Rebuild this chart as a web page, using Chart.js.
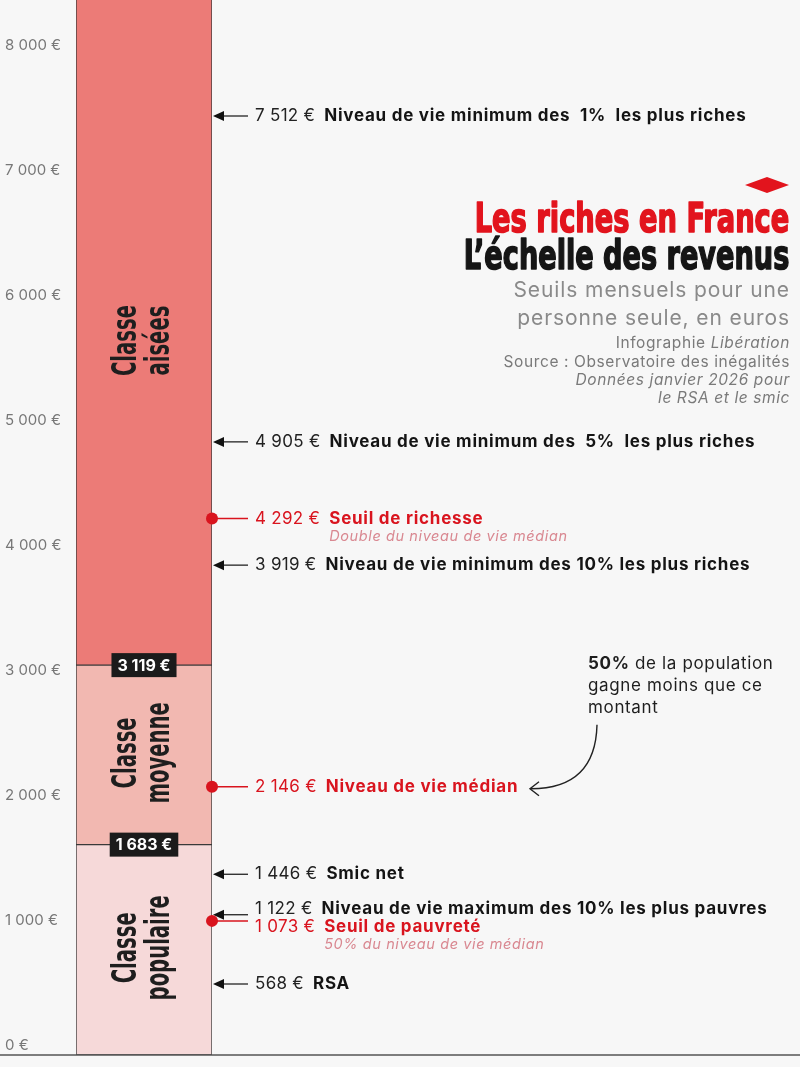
<!DOCTYPE html>
<html><head><meta charset="utf-8">
<script src="https://cdn.jsdelivr.net/npm/chart.js@4"></script>
<style>html,body{margin:0;padding:0;background:#f7f7f7;}canvas{display:block}</style>
</head><body>
<canvas id="c" width="800" height="1067"></canvas>
<script>
// ---------- DATA ----------
const AXIS_MAX = 8440;
const yTicks = [0, 1000, 2000, 3000, 4000, 5000, 6000, 7000, 8000];
const classNames = [['Classe', 'populaire'], ['Classe', 'moyenne'], ['Classe', 'aisées']];
const classLow = [0, 1683, 3119];
const classHigh = [1683, 3119, AXIS_MAX];
const classColors = ['#f6d9d9', '#f2b8b1', '#ec7b77'];
const boundaryValues = [1683, 3119];
const markerValues = [7512, 4905, 4292, 3919, 2146, 1446, 1122, 1073, 568];
const markerLabels = [
  'Niveau de vie minimum des  1%  les plus riches',
  'Niveau de vie minimum des  5%  les plus riches',
  'Seuil de richesse',
  'Niveau de vie minimum des 10% les plus riches',
  'Niveau de vie médian',
  'Smic net',
  'Niveau de vie maximum des 10% les plus pauvres',
  'Seuil de pauvreté',
  'RSA'
];
const markerNotes = ['', '', 'Double du niveau de vie médian', '', '', '', '', '50% du niveau de vie médian', ''];
const markerKinds = ['arrow', 'arrow', 'dot', 'arrow', 'dot', 'arrow', 'arrow', 'dot', 'arrow'];
const medianValue = 2146;
const titleLines = ['Les riches en France', 'L\u2019échelle des revenus'];
const subtitleLines = ['Seuils mensuels pour une', 'personne seule, en euros'];
const annotationLines = [['50%', ' de la population'], ['', 'gagne moins que ce'], ['', 'montant']];

// ---------- HELPERS ----------
const RED = '#d9141e';
const fmt = v => String(v).replace(/\B(?=(\d{3})+(?!\d))/g, ' ') + ' €';
const COND = '"DejaVu Sans Condensed", "DejaVu Sans", sans-serif';

const overlay = {
  id: 'overlay',
  afterDatasetsDraw(chart) {
    const ctx = chart.ctx;
    const ys = chart.scales.y;
    const ca = chart.chartArea;
    const cx = (ca.left + ca.right) / 2;
    ctx.save();

    // bottom baseline
    ctx.strokeStyle = '#555';
    ctx.lineWidth = 1.5;
    ctx.beginPath();
    ctx.moveTo(0, ys.getPixelForValue(0));
    ctx.lineTo(chart.width, ys.getPixelForValue(0));
    ctx.stroke();

    // class labels (rotated, condensed)
    ctx.font = 'bold 33px ' + COND;
    const classScale = 71 / ctx.measureText('Classe').width;
    classNames.forEach((lines, i) => {
      const yTop = ys.getPixelForValue(Math.min(classHigh[i], ys.max));
      const yBot = ys.getPixelForValue(classLow[i]);
      const cy = (yTop + yBot) / 2 + (classHigh[i] >= ys.max ? 8 : -2);
      ctx.save();
      ctx.translate(cx, cy);
      ctx.rotate(-Math.PI / 2);
      ctx.fillStyle = '#1e1e1e';
      ctx.font = 'bold 33px ' + COND;
      ctx.textAlign = 'center';
      ctx.textBaseline = 'middle';
      lines.forEach((t, k) => {
        ctx.save();
        ctx.translate(0, (k - (lines.length - 1) / 2) * 33);
        ctx.scale(classScale, 1);
        ctx.fillText(t, 0, 0);
        ctx.restore();
      });
      ctx.restore();
    });

    // boundary badges
    boundaryValues.forEach(v => {
      const y = ys.getPixelForValue(v);
      ctx.font = 'bold 16px Inter';
      const t = fmt(v);
      const w = ctx.measureText(t).width + 12;
      ctx.fillStyle = '#1b1b1b';
      ctx.fillRect(cx - w / 2, y - 12, w, 24);
      ctx.fillStyle = '#fff';
      ctx.textAlign = 'center';
      ctx.textBaseline = 'middle';
      ctx.fillText(t, cx, y + 1);
    });

    // markers: compute label positions avoiding overlaps
    const xEdge = ca.right;
    const items = markerValues.map((v, i) => ({ i, v, py: ys.getPixelForValue(v), ty: ys.getPixelForValue(v) }));
    items.sort((a, b) => a.py - b.py);
    for (let k = 0; k < items.length - 1; k++) {
      const a = items[k], b = items[k + 1];
      if (b.ty - a.ty < 18) {
        const mid = (a.ty + b.ty) / 2;
        a.ty = mid - 9; b.ty = mid + 9;
      }
    }
    items.forEach(it => {
      const i = it.i;
      const red = markerKinds[i] === 'dot';
      const y = it.py;
      ctx.lineWidth = red ? 1.5 : 1.2;
      ctx.strokeStyle = red ? RED : '#111';
      ctx.fillStyle = red ? RED : '#111';
      ctx.beginPath();
      ctx.moveTo(red ? xEdge : xEdge + 10, y);
      ctx.lineTo(xEdge + 36, y);
      ctx.stroke();
      if (red) {
        ctx.beginPath();
        ctx.arc(xEdge, y, 6, 0, Math.PI * 2);
        ctx.fill();
      } else {
        ctx.beginPath();
        ctx.moveTo(xEdge + 1, y);
        ctx.lineTo(xEdge + 12, y - 5);
        ctx.lineTo(xEdge + 12, y + 5);
        ctx.closePath();
        ctx.fill();
      }
      const x0 = xEdge + 43;
      ctx.textAlign = 'left';
      ctx.textBaseline = 'middle';
      ctx.font = '17px Inter';
      ctx.letterSpacing = '0.3px';
      ctx.fillStyle = red ? RED : '#222';
      const vt = fmt(markerValues[i]);
      ctx.fillText(vt, x0, it.ty);
      const x1 = x0 + ctx.measureText(vt).width + 9;
      ctx.font = 'bold 17px Inter';
      ctx.letterSpacing = '0.75px';
      ctx.fillStyle = red ? RED : '#141414';
      ctx.fillText(markerLabels[i], x1, it.ty);
      if (markerNotes[i]) {
        ctx.font = 'italic 14.5px Inter';
        ctx.letterSpacing = '0.6px';
        ctx.fillStyle = '#d98891';
        ctx.fillText(markerNotes[i], x1, it.ty + 18);
      }
      ctx.letterSpacing = '0px';
    });

    // title block
    const R = 790;
    ctx.fillStyle = '#e2141d';
    ctx.beginPath();
    ctx.moveTo(745, 185); ctx.lineTo(767, 177); ctx.lineTo(789, 185); ctx.lineTo(767, 193);
    ctx.closePath(); ctx.fill();
    const tColors = ['#e2141d', '#151515'];
    const tWidths = [316, 327];
    const tBase = [232, 269];
    titleLines.forEach((t, k) => {
      ctx.font = 'bold 41px ' + COND;
      const w = ctx.measureText(t).width;
      ctx.save();
      ctx.translate(R - 0.7, tBase[k]);
      ctx.scale((tWidths[k] - 1.4) / w, 1);
      ctx.textAlign = 'right';
      ctx.textBaseline = 'alphabetic';
      ctx.fillStyle = tColors[k];
      ctx.strokeStyle = tColors[k];
      ctx.lineWidth = 1.6;
      ctx.lineJoin = 'round';
      ctx.fillText(t, 0, 0);
      ctx.strokeText(t, 0, 0);
      ctx.restore();
    });
    ctx.textAlign = 'right';
    ctx.textBaseline = 'alphabetic';
    ctx.fillStyle = '#8a8a8a';
    ctx.font = '21px Inter';
    ctx.letterSpacing = '0.9px';
    ctx.fillText(subtitleLines[0], R, 297);
    ctx.fillText(subtitleLines[1], R, 325);
    ctx.fillStyle = '#7a7a7a';
    ctx.letterSpacing = '0.6px';
    ctx.font = 'italic 15.5px Inter';
    const lib = 'Libération';
    const libW = ctx.measureText(lib).width;
    ctx.fillText(lib, R, 348);
    ctx.font = '15.5px Inter';
    ctx.fillText('Infographie ', R - libW, 348);
    ctx.fillText('Source : Observatoire des inégalités', R, 367);
    ctx.font = 'italic 15.5px Inter';
    ctx.fillText('Données janvier 2026 pour', R, 385);
    ctx.fillText('le RSA et le smic', R, 403);

    // median annotation
    const my = ys.getPixelForValue(medianValue);
    ctx.textAlign = 'left';
    ctx.textBaseline = 'middle';
    ctx.letterSpacing = '0.65px';
    annotationLines.forEach((parts, k) => {
      let x = 588;
      const y = my - 123 + k * 22;
      ctx.fillStyle = '#1e1e1e';
      if (parts[0]) {
        ctx.font = 'bold 17px Inter';
        ctx.fillText(parts[0], x, y);
        x += ctx.measureText(parts[0]).width;
      }
      ctx.font = '17px Inter';
      ctx.fillText(parts[1], x, y);
    });
    ctx.letterSpacing = '0px';
    ctx.strokeStyle = '#222';
    ctx.lineWidth = 1.4;
    ctx.beginPath();
    ctx.moveTo(597, my - 62);
    ctx.bezierCurveTo(596, my - 20, 575, my + 2, 531, my + 2);
    ctx.stroke();
    ctx.beginPath();
    ctx.moveTo(539, my - 5);
    ctx.lineTo(530, my + 2);
    ctx.lineTo(539, my + 9);
    ctx.stroke();

    ctx.restore();
  }
};

new Chart(document.getElementById('c'), {
  type: 'bar',
  data: {
    labels: ['Revenus'],
    datasets: classNames.map((n, i) => ({
      label: n.join(' '),
      data: [[classLow[i], classHigh[i]]],
      backgroundColor: classColors[i],
      borderColor: '#3a3a3a',
      borderWidth: { left: 1, right: 1, bottom: 1, top: classHigh[i] >= AXIS_MAX ? 0 : 1 },
      borderSkipped: false,
      barPercentage: 1,
      categoryPercentage: 1,
      grouped: false
    }))
  },
  options: {
    responsive: false,
    animation: false,
    layout: { padding: { left: 5, right: 588, top: 0, bottom: 12 } },
    plugins: { legend: { display: false }, tooltip: { enabled: false } },
    scales: {
      x: { display: false },
      y: {
        min: 0,
        max: AXIS_MAX,
        grid: { display: false },
        border: { display: false },
        afterFit: s => { s.width = 71; s.paddingTop = 0; s.paddingBottom = 0; },
        afterBuildTicks: s => { s.ticks = yTicks.map(v => ({ value: v })); },
        ticks: {
          autoSkip: false,
          labelOffset: -10,
          crossAlign: 'far',
          color: '#777',
          font: { family: 'Inter', size: 15 },
          callback: v => fmt(v)
        }
      }
    }
  },
  plugins: [overlay]
});
</script>
</body></html>
